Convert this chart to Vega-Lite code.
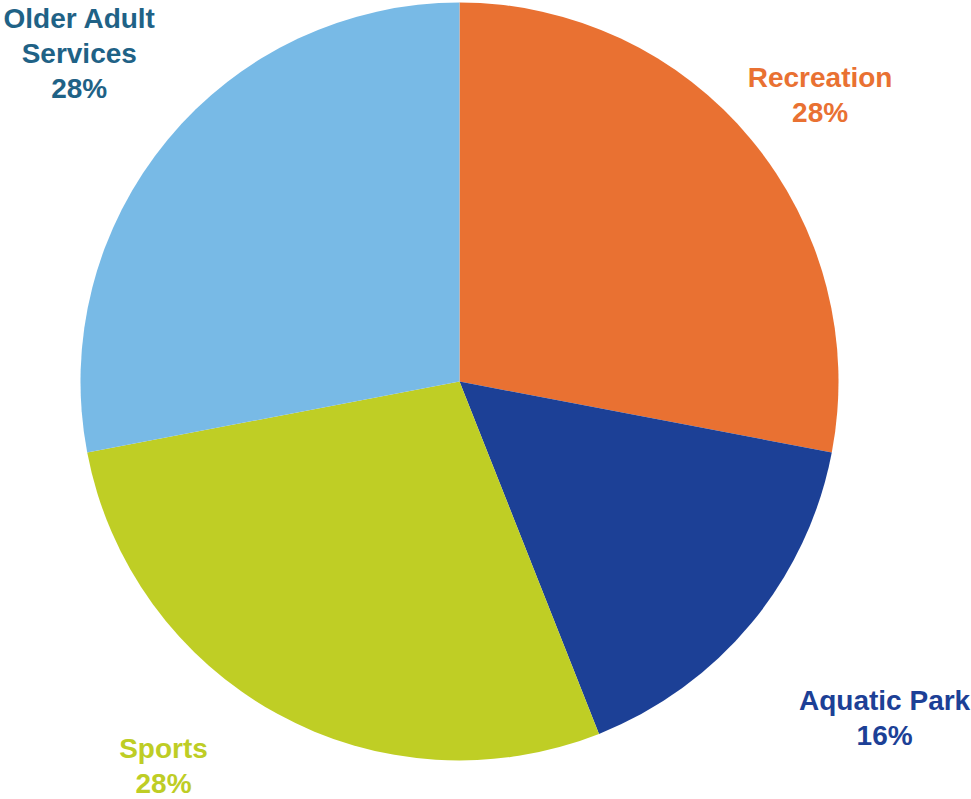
{
  "$schema": "https://vega.github.io/schema/vega-lite/v6.json",
  "width": 919,
  "height": 763,
  "autosize": {"type": "none"},
  "padding": {"left": 0, "top": 0, "right": 52, "bottom": 36},
  "background": "white",
  "view": {"stroke": null},
  "data": {
    "values": [
      {"idx": 1, "category": "Recreation", "share": 28, "label": "Recreation\n28%"},
      {"idx": 2, "category": "Aquatic Park", "share": 16, "label": "Aquatic Park\n16%"},
      {"idx": 3, "category": "Sports", "share": 28, "label": "Sports\n28%"},
      {"idx": 4, "category": "Older Adult Services", "share": 28, "label": "Older Adult\nServices\n28%"}
    ]
  },
  "encoding": {
    "theta": {"field": "share", "type": "quantitative", "stack": true},
    "order": {"field": "idx", "type": "quantitative", "sort": "ascending"}
  },
  "layer": [
    {
      "mark": {"type": "arc", "outerRadius": 379, "stroke": null},
      "encoding": {
        "color": {
          "field": "category",
          "type": "nominal",
          "legend": null,
          "scale": {
            "domain": ["Recreation", "Aquatic Park", "Sports", "Older Adult Services"],
            "range": ["#E97132", "#1C4096", "#BFCE25", "#78BAE6"]
          }
        }
      }
    },
    {
      "mark": {"type": "text", "radius": 455, "dx": 10, "dy": -12, "font": "Liberation Sans", "fontWeight": "bold", "fontSize": 28, "lineBreak": "\n", "lineHeight": 35, "align": "center", "baseline": "middle", "color": "#E97132"},
      "encoding": {"text": {"condition": {"test": "datum.category === 'Recreation'", "field": "label"}, "value": ""}}
    },
    {
      "mark": {"type": "text", "radius": 540, "dx": 9, "dy": -24, "font": "Liberation Sans", "fontWeight": "bold", "fontSize": 28, "lineBreak": "\n", "lineHeight": 35, "align": "center", "baseline": "middle", "color": "#1C4096"},
      "encoding": {"text": {"condition": {"test": "datum.category === 'Aquatic Park'", "field": "label"}, "value": ""}}
    },
    {
      "mark": {"type": "text", "radius": 440, "dx": -84, "dy": -17, "font": "Liberation Sans", "fontWeight": "bold", "fontSize": 28, "lineBreak": "\n", "lineHeight": 35, "align": "center", "baseline": "middle", "color": "#BECD25"},
      "encoding": {"text": {"condition": {"test": "datum.category === 'Sports'", "field": "label"}, "value": ""}}
    },
    {
      "mark": {"type": "text", "radius": 500, "dx": 5, "dy": -43, "font": "Liberation Sans", "fontWeight": "bold", "fontSize": 28, "lineBreak": "\n", "lineHeight": 35, "align": "center", "baseline": "middle", "color": "#1F6286"},
      "encoding": {"text": {"condition": {"test": "datum.category === 'Older Adult Services'", "field": "label"}, "value": ""}}
    }
  ]
}
